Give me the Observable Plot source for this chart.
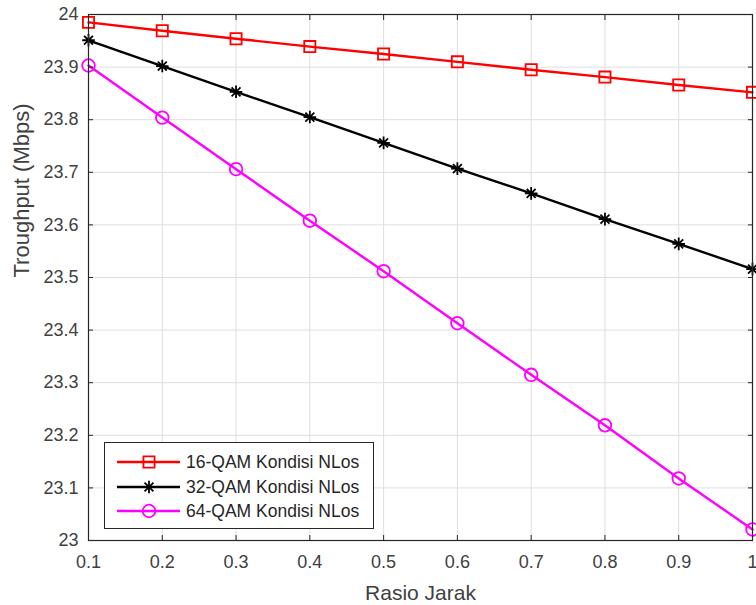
<!DOCTYPE html>
<html>
<head>
<meta charset="utf-8">
<script src="https://cdn.jsdelivr.net/npm/d3@7"></script>
<script src="https://cdn.jsdelivr.net/npm/@observablehq/plot@0.6"></script>
<style>
  body { margin: 0; background: #ffffff; }
  #wrap { position: relative; width: 756px; height: 605px; font-family: "Liberation Sans", Arial, sans-serif; }
  #legend { position: absolute; left: 104px; top: 442px; width: 268px; height: 85px; border: 1px solid #262626; background: #ffffff; }
</style>
</head>
<body>
<div id="wrap"><div id="legend"></div></div>
<script>
// ---- data ----
const rasioJarak = [0.1, 0.2, 0.3, 0.4, 0.5, 0.6, 0.7, 0.8, 0.9, 1.0];
const qam16 = [23.985, 23.969, 23.954, 23.939, 23.925, 23.910, 23.895, 23.881, 23.866, 23.852];
const qam32 = [23.951, 23.902, 23.853, 23.805, 23.756, 23.707, 23.660, 23.611, 23.564, 23.516];
const qam64 = [23.903, 23.804, 23.706, 23.608, 23.512, 23.413, 23.315, 23.219, 23.118, 23.021];
const seriesNames = ["16-QAM Kondisi NLos", "32-QAM Kondisi NLos", "64-QAM Kondisi NLos"];
const seriesColors = ["#ff0000", "#000000", "#ff00ff"];
const xTicks = [0.1, 0.2, 0.3, 0.4, 0.5, 0.6, 0.7, 0.8, 0.9, 1];
const yTicks = [23, 23.1, 23.2, 23.3, 23.4, 23.5, 23.6, 23.7, 23.8, 23.9, 24];
const xLabel = "Rasio Jarak";
const yLabel = "Troughput (Mbps)";

// MATLAB-style 8-arm asterisk
const star8 = {
  draw(context, size) {
    const r = Math.sqrt(size / Math.PI);
    for (let k = 0; k < 4; k++) {
      const a = k * Math.PI / 4;
      const dx = r * Math.cos(a), dy = r * Math.sin(a);
      context.moveTo(-dx, -dy);
      context.lineTo(dx, dy);
    }
  }
};
const seriesSymbols = [d3.symbolSquare, star8, d3.symbolCircle];

const seriesValues = [qam16, qam32, qam64];
const data = seriesNames.flatMap((name, i) =>
  rasioJarak.map((x, j) => ({series: name, x, y: seriesValues[i][j]})));

const ink = "#262626";
const fmt = d => String(d);

const chart = Plot.plot({
  width: 756,
  height: 605,
  marginLeft: 88,
  marginRight: 4,
  marginTop: 14,
  marginBottom: 65,
  style: {fontFamily: '"Liberation Sans", Arial, sans-serif', background: "#ffffff", color: ink},
  x: {domain: [0.1, 1]},
  y: {domain: [23, 24]},
  color: {domain: seriesNames, range: seriesColors},
  symbol: {domain: seriesNames, range: seriesSymbols},
  marks: [
    Plot.gridX(xTicks, {stroke: "#dedede", strokeOpacity: 1, strokeWidth: 1}),
    Plot.gridY(yTicks, {stroke: "#dedede", strokeOpacity: 1, strokeWidth: 1}),
    Plot.line(data, {x: "x", y: "y", z: "series", stroke: "series", strokeWidth: 2.4}),
    Plot.dot(data, {x: "x", y: "y", stroke: "series", symbol: "series", fill: "none", r: 6.3, strokeWidth: 1.8}),
    Plot.frame({stroke: ink, strokeWidth: 1.2}),
    Plot.axisX(xTicks, {anchor: "bottom", tickSize: -5, tickFormat: () => "", label: null, stroke: ink}),
    Plot.axisX(xTicks, {anchor: "top", tickSize: -5, tickFormat: () => "", label: null, stroke: ink}),
    Plot.axisY(yTicks, {anchor: "left", tickSize: -5, tickFormat: () => "", label: null, stroke: ink}),
    Plot.axisY(yTicks, {anchor: "right", tickSize: -5, tickFormat: () => "", label: null, stroke: ink}),
    Plot.axisX(xTicks, {anchor: "bottom", tickSize: 0, tickPadding: 15, tickFormat: fmt, label: null, fontSize: 18, fill: "#404040"}),
    Plot.axisY(yTicks, {anchor: "left", tickSize: 0, tickPadding: 10, tickFormat: fmt, label: null, fontSize: 18, fill: "#404040"}),
    Plot.text([xLabel], {text: d => d, frameAnchor: "bottom", dy: 45, lineAnchor: "top", fontSize: 21, fill: "#404040"}),
    Plot.text([yLabel], {text: d => d, frameAnchor: "left", dx: -67, rotate: -90, fontSize: 22, fill: "#404040"})
  ]
});
document.getElementById("wrap").prepend(chart);

// ---- legend (overlay inside the axes) ----
const lg = d3.select("#legend").append("svg").attr("width", 268).attr("height", 85)
  .style("position", "absolute").style("left", 0).style("top", 0);
const rowY = [19, 44, 68];
seriesNames.forEach((name, i) => {
  const g = lg.append("g").attr("transform", `translate(0,${rowY[i]})`);
  g.append("line").attr("x1", 12).attr("x2", 75).attr("y1", 0).attr("y2", 0)
    .attr("stroke", seriesColors[i]).attr("stroke-width", 2.4);
  g.append("path").attr("transform", "translate(44,0)")
    .attr("d", d3.symbol(seriesSymbols[i], Math.PI * 6.3 * 6.3)())
    .attr("fill", "none").attr("stroke", seriesColors[i]).attr("stroke-width", 1.8);
  g.append("text").attr("x", 81).attr("y", 0).attr("dy", "0.35em")
    .attr("font-size", 17.5).attr("fill", "#262626")
    .attr("font-family", '"Liberation Sans", Arial, sans-serif')
    .text(name);
});
</script>
</body>
</html>
